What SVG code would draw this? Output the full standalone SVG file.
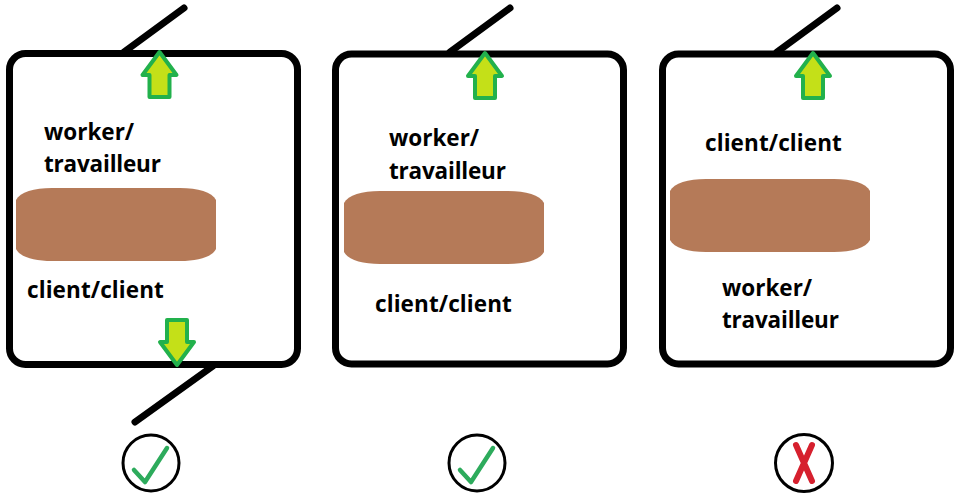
<svg xmlns="http://www.w3.org/2000/svg" width="959" height="498" viewBox="0 0 959 498">
<defs>
<style>
.box{fill:#fff;stroke:#000;stroke-width:7}
.wire{fill:none;stroke:#000;stroke-width:7;stroke-linecap:round}
.pipe{fill:#b57a58}
.arrow{fill:#c4e018;stroke:#22b14c;stroke-width:4;stroke-linejoin:round}
.lbl{font-family:"Open Sans","Noto Sans","Liberation Sans",sans-serif;font-weight:700;font-size:22.5px;fill:#000}
.long{letter-spacing:-0.2px}
.wide{letter-spacing:0.1px}
.ring{fill:#fff;stroke:#000;stroke-width:3}
.ok{fill:none;stroke:#2dab5c;stroke-width:4.500;stroke-linecap:round;stroke-linejoin:round}
.no{fill:none;stroke:#d6202e;stroke-width:6;stroke-linecap:round}
</style>
<path id="pipeShape" d="M0 12C4 4 18 0 36 0H164C182 0 196 4 200 12V61C196 69 182 73 164 73H36C18 73 4 69 0 61Z"/>
<path id="arrowUp" d="M0 0L17 23H10V45H-10V23H-17Z"/>
</defs>
<rect width="959" height="498" fill="#fff"/>
<g id="connectors">
<path class="wire" d="M124 52L184 8"/>
<path class="wire" d="M450 52L510 8"/>
<path class="wire" d="M777 52L837 8"/>
<path class="wire" d="M213 366L135 422"/>
</g>
<g id="box1">
<rect class="box" x="9.500" y="53.500" width="288" height="311" rx="16"/>
<use href="#pipeShape" class="pipe" x="16" y="188"/>
<use href="#arrowUp" class="arrow" transform="translate(159.500 52)"/>
<use href="#arrowUp" class="arrow" transform="translate(177 365) rotate(180)"/>
<text class="lbl" x="44" y="140">worker/</text>
<text class="lbl long" x="44" y="172">travailleur</text>
<text class="lbl wide" x="27" y="298">client/client</text>
</g>
<g id="box2">
<rect class="box" x="335.500" y="54" width="288" height="310" rx="16"/>
<use href="#pipeShape" class="pipe" x="344" y="191"/>
<use href="#arrowUp" class="arrow" transform="translate(485 53)"/>
<text class="lbl" x="389" y="146">worker/</text>
<text class="lbl long" x="389" y="179">travailleur</text>
<text class="lbl wide" x="375" y="312">client/client</text>
</g>
<g id="box3">
<rect class="box" x="662.500" y="54" width="288" height="310" rx="16"/>
<use href="#pipeShape" class="pipe" x="670" y="179"/>
<use href="#arrowUp" class="arrow" transform="translate(813 53)"/>
<text class="lbl wide" x="705" y="151">client/client</text>
<text class="lbl" x="722" y="296">worker/</text>
<text class="lbl long" x="722" y="328">travailleur</text>
</g>
<g id="mark1">
<circle class="ring" cx="151" cy="463" r="28"/>
<path class="ok" d="M134 470L145 482L167 448"/>
</g>
<g id="mark2">
<circle class="ring" cx="477" cy="463" r="28"/>
<path class="ok" d="M460 470L471 482L493 448"/>
</g>
<g id="mark3">
<circle class="ring" cx="804" cy="463" r="28.500"/>
<path class="no" d="M796 445L812 481M812 445L796 481"/>
</g>
</svg>
